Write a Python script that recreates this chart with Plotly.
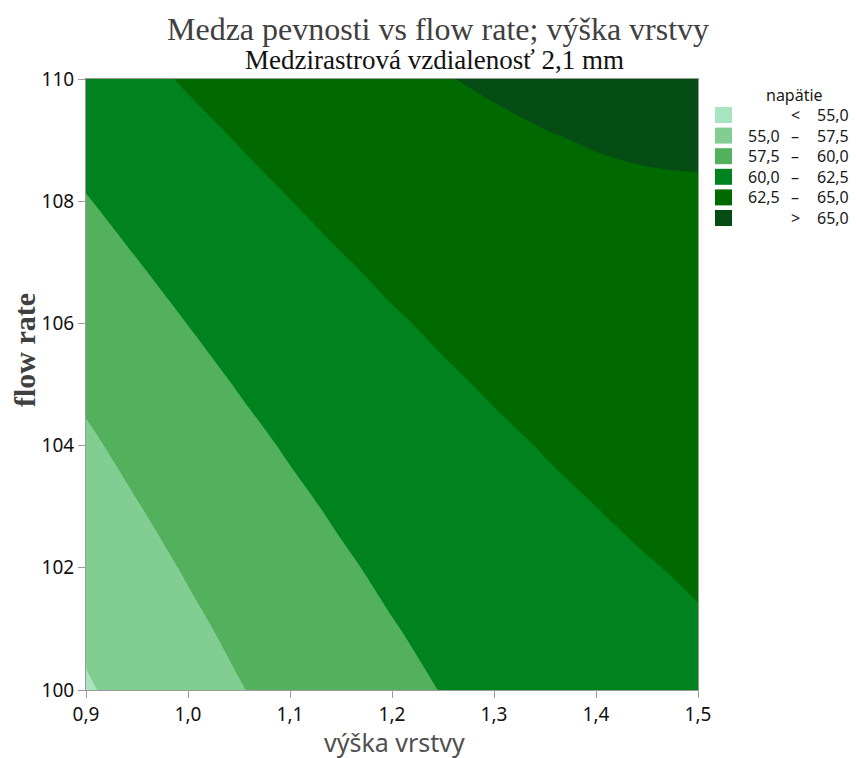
import plotly.graph_objects as go

# ---- data ----
x_vals = [0.90, 0.95, 1.00, 1.05, 1.10, 1.15, 1.20, 1.25, 1.30, 1.35, 1.40, 1.45, 1.50]
y_vals = [100, 101, 102, 103, 104, 105, 106, 107, 108, 109, 110]
z_vals = [
    [54.80, 55.72, 56.59, 57.40, 58.15, 58.84, 59.48, 60.06, 60.58, 61.04, 61.44, 61.79, 62.08],
    [55.38, 56.28, 57.12, 57.90, 58.63, 59.30, 59.91, 60.46, 60.96, 61.40, 61.78, 62.10, 62.37],
    [55.97, 56.85, 57.66, 58.42, 59.13, 59.77, 60.36, 60.89, 61.36, 61.77, 62.13, 62.43, 62.67],
    [56.58, 57.43, 58.23, 58.96, 59.64, 60.26, 60.82, 61.33, 61.78, 62.17, 62.50, 62.77, 62.99],
    [57.21, 58.04, 58.81, 59.52, 60.17, 60.77, 61.31, 61.79, 62.21, 62.58, 62.89, 63.14, 63.33],
    [57.86, 58.66, 59.41, 60.09, 60.72, 61.30, 61.81, 62.27, 62.67, 63.01, 63.29, 63.52, 63.69],
    [58.52, 59.30, 60.02, 60.69, 61.29, 61.84, 62.33, 62.76, 63.14, 63.46, 63.72, 63.92, 64.06],
    [59.21, 59.96, 60.66, 61.30, 61.88, 62.40, 62.87, 63.28, 63.63, 63.92, 64.16, 64.34, 64.44],
    [59.91, 60.64, 61.31, 61.93, 62.48, 62.98, 63.43, 63.81, 64.14, 64.41, 64.62, 64.75, 64.80],
    [60.63, 61.33, 61.98, 62.57, 63.11, 63.58, 64.00, 64.36, 64.66, 64.91, 65.09, 65.19, 65.22],
    [61.36, 62.05, 62.67, 63.24, 63.75, 64.20, 64.59, 64.93, 65.21, 65.43, 65.59, 65.67, 65.68],
]
levels = [55.0, 57.5, 60.0, 62.5, 65.0]
band_colors = ["#a8e4bf", "#82cd92", "#53b05c", "#00821f", "#006a00", "#054d15"]
x_ticks = [0.9, 1.0, 1.1, 1.2, 1.3, 1.4, 1.5]
y_ticks = [100, 102, 104, 106, 108, 110]

title_text = "Medza pevnosti vs flow rate; výška vrstvy"
subtitle_text = "Medzirastrová vzdialenosť 2,1 mm"
x_title = "výška vrstvy"
y_title = "flow rate"
legend_title = "napätie"

# ---- figure ----
n = len(band_colors)
colorscale = [[i / (n - 1), c] for i, c in enumerate(band_colors)]
step = levels[1] - levels[0]

fig = go.Figure(go.Contour(
    x=x_vals, y=y_vals, z=z_vals,
    colorscale=colorscale,
    contours=dict(start=levels[0], end=levels[-1], size=step, coloring="fill"),
    line=dict(width=0),
    showscale=False,
    hoverinfo="skip",
))

def fmt(v):
    return f"{v:.1f}".replace(".", ",")

L, R, T, B = 86, 158, 79, 68
W, H = 856, 758
pw, ph = W - L - R, H - T - B

def px_x(p):
    return (p - L) / pw

def px_y(p):
    return (H - B - p) / ph

shapes = []
annotations = []
grey = "#9b9b9b"
sans = "Noto Sans, Open Sans, sans-serif"
serif = "Liberation Serif, Times New Roman, serif"
tick_font = dict(family=sans, size=19, color="#111111")
leg_font = dict(family=sans, size=16, color="#1a1a1a")

# legend
annotations.append(dict(text=legend_title, x=px_x(794), y=px_y(95), xref="paper", yref="paper",
                        xanchor="center", yanchor="middle", showarrow=False,
                        font=dict(family=sans, size=16, color="#1a1a1a")))
row0, row_gap = 115, 20.6
for i, col in enumerate(band_colors):
    cy = row0 + i * row_gap
    shapes.append(dict(type="rect", xref="paper", yref="paper",
                       x0=px_x(715), x1=px_x(732), y0=px_y(cy - 8), y1=px_y(cy + 8),
                       fillcolor=col, line=dict(width=0)))
    if i == 0:
        left, sym, right = "", "<", fmt(levels[0])
    elif i == n - 1:
        left, sym, right = "", ">", fmt(levels[-1])
    else:
        left, sym, right = fmt(levels[i - 1]), "–", fmt(levels[i])
    if left:
        annotations.append(dict(text=left, x=px_x(782), y=px_y(cy), xref="paper", yref="paper",
                                xanchor="right", yanchor="middle", showarrow=False, font=leg_font))
    annotations.append(dict(text=sym, x=px_x(795), y=px_y(cy), xref="paper", yref="paper",
                            xanchor="center", yanchor="middle", showarrow=False, font=leg_font))
    annotations.append(dict(text=right, x=px_x(851), y=px_y(cy), xref="paper", yref="paper",
                            xanchor="right", yanchor="middle", showarrow=False, font=leg_font))

# titles
annotations.append(dict(text=title_text, x=px_x(438), y=px_y(29), xref="paper", yref="paper",
                        xanchor="center", yanchor="middle", showarrow=False,
                        font=dict(family=serif, size=32, color="#404040")))
annotations.append(dict(text=subtitle_text, x=px_x(434), y=px_y(60), xref="paper", yref="paper",
                        xanchor="center", yanchor="middle", showarrow=False,
                        font=dict(family=serif, size=27, color="#111111")))
annotations.append(dict(text=f"<b>{y_title}</b>", x=px_x(24), y=px_y(350), xref="paper", yref="paper",
                        xanchor="center", yanchor="middle", showarrow=False, textangle=-90,
                        font=dict(family=serif, size=30, color="#404040")))
annotations.append(dict(text=x_title, x=px_x(394), y=px_y(742), xref="paper", yref="paper",
                        xanchor="center", yanchor="middle", showarrow=False,
                        font=dict(family=sans, size=25, color="#505050")))

axis_common = dict(showline=True, linecolor=grey, linewidth=1, mirror=True,
                   ticks="outside", ticklen=7, tickcolor=grey, tickwidth=1,
                   showgrid=False, zeroline=False, tickfont=tick_font)

fig.update_layout(
    width=W, height=H,
    margin=dict(l=L, r=R, t=T, b=B),
    paper_bgcolor="white", plot_bgcolor="white",
    separators=", ",
    showlegend=False,
    xaxis=dict(range=[x_ticks[0], x_ticks[-1]], tickvals=x_ticks, tickformat=".1f", **axis_common),
    yaxis=dict(range=[y_ticks[0], y_ticks[-1]], tickvals=y_ticks, **axis_common),
    shapes=shapes,
    annotations=annotations,
)

fig.write_html("out.html", config={"displayModeBar": False},
               post_script="document.body.style.margin='0';document.body.style.overflow='hidden';")
